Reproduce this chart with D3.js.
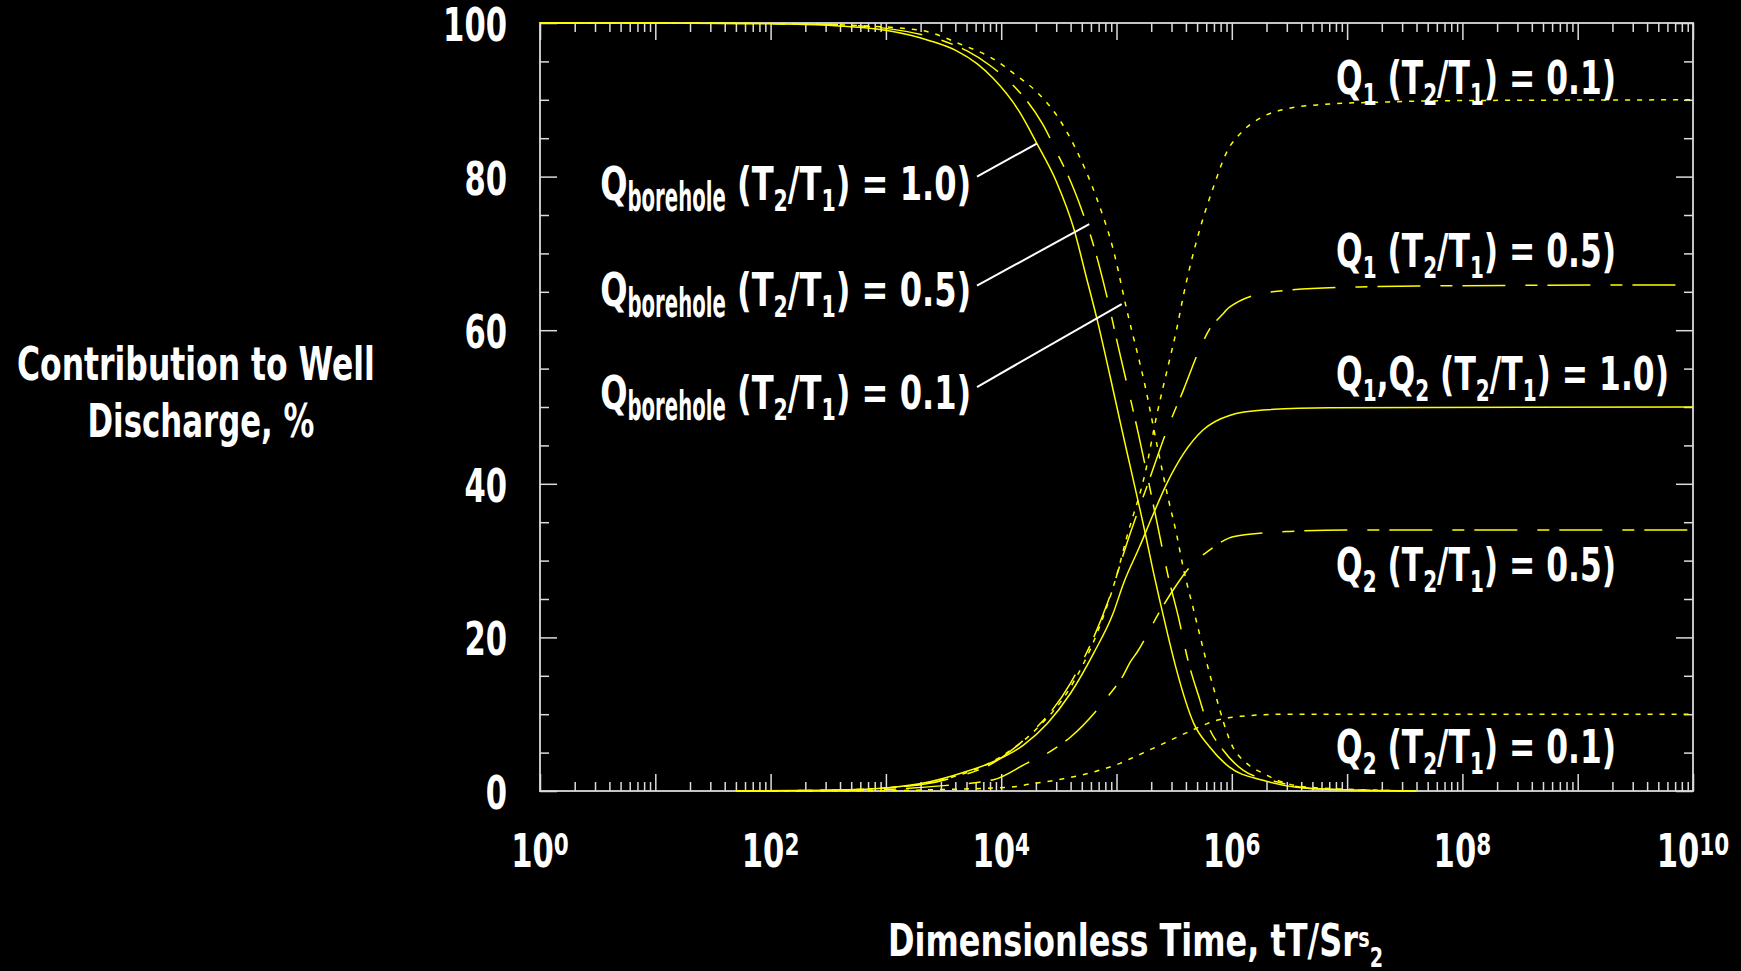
<!DOCTYPE html>
<html>
<head>
<meta charset="utf-8">
<script src="https://cdn.jsdelivr.net/npm/d3@7"></script>
<style>
  html, body { margin: 0; padding: 0; background: #000; }
  svg { display: block; background: #000; }
  text {
    font-family: "Liberation Sans Narrow", "Arial Narrow", "DejaVu Sans Condensed", sans-serif;
    font-weight: bold;
    fill: #fff;
  }
</style>
</head>
<body>
<div id="chart"></div>
<script>
// each point is [log10 of dimensionless time, contribution in %]
const boreholeRatio10 = [[0,100],[1,100],[2,99.9],[2.5,99.7],[3.0,99.05],[3.38,97.7],[3.61,96.4],[3.79,94.7],[3.93,92.8],[4.16,88.4],[4.31,84.3],[4.48,79.3],[4.63,73.2],[4.74,66.8],[4.83,61.5],[4.94,54.3],[5.04,47.5],[5.12,42.2],[5.25,33.5],[5.32,28.5],[5.38,24.5],[5.45,20.0],[5.52,15.8],[5.67,8.8],[5.81,5.7],[5.98,3.1],[6.27,1.4],[6.56,0.5],[7.0,0.15],[7.6,0]];
const boreholeRatio05 = [[0,100],[1,100],[2,99.9],[2.5,99.8],[3.0,99.3],[3.53,97.5],[3.70,96.4],[3.90,94.5],[4.09,92.1],[4.365,86.7],[4.51,82.3],[4.55,81.1],[4.70,75.6],[4.80,71.1],[4.915,64.5],[5.016,57.8],[5.19,46.5],[5.348,35.2],[5.449,27.9],[5.536,22.7],[5.62,17.0],[5.724,11.8],[5.782,9.0],[5.926,5.3],[6.1,2.7],[6.389,1.2],[6.707,0.3],[7.6,0]];
const boreholeRatio01 = [[0,100],[1,100],[2,99.95],[2.7,99.7],[3.3,99.05],[3.67,97.1],[3.90,95.6],[4.13,93.2],[4.31,91.0],[4.48,88.0],[4.66,83.2],[4.83,77.1],[4.97,70.6],[5.09,62.6],[5.25,52.6],[5.36,44.4],[5.45,38.0],[5.52,33.5],[5.58,29.0],[5.67,23.5],[5.84,13.5],[6.01,5.7],[6.13,3.6],[6.27,2.3],[6.65,0.5],[7.6,0]];
const q1q2Ratio10 = [[1.7,0],[2.5,0.1],[3.0,0.4],[3.38,1.2],[3.67,2.4],[3.96,4.0],[4.19,5.95],[4.4,8.8],[4.6,12.7],[4.8,17.9],[4.97,23.1],[5.06,27.0],[5.2,31.8],[5.32,36.1],[5.435,40.0],[5.58,43.9],[5.75,47.0],[5.98,48.9],[6.27,49.6],[6.85,49.9],[10,50]];
const q1Ratio05 = [[1.7,0],[2.5,0.1],[3.0,0.4],[3.5,1.4],[4.0,4.3],[4.22,7.0],[4.6,14.0],[4.92,24.4],[5.12,33.6],[5.26,39.5],[5.45,47.5],[5.58,52.2],[5.72,57.5],[5.81,60.2],[5.91,61.9],[5.98,63.0],[6.35,65.0],[7.0,65.6],[8,65.8],[10,65.9]];
const q2Ratio05 = [[1.7,0],[2.5,0.05],[3.0,0.2],[3.5,0.7],[3.94,1.5],[4.22,3.6],[4.42,5.1],[4.6,7.0],[4.92,12.2],[5.06,15.1],[5.12,16.8],[5.18,18.1],[5.38,23.5],[5.51,26.6],[5.65,29.4],[5.80,31.3],[5.93,32.6],[6.01,33.1],[6.5,33.8],[7.0,34.0],[10,34.0]];
const q1Ratio01 = [[1.7,0],[2.5,0.1],[3.0,0.4],[3.5,1.5],[4.0,4.5],[4.3,8.0],[4.6,13.5],[4.83,20.5],[5.0,28.0],[5.09,33.1],[5.25,41.5],[5.35,49.0],[5.45,55.5],[5.52,60.0],[5.58,64.5],[5.72,73.0],[5.84,78.6],[5.95,83.0],[6.1,86.0],[6.27,87.8],[6.5,88.9],[6.8,89.4],[7.3,89.7],[8,89.9],[10,90]];
const q2Ratio01 = [[1.7,0],[2.5,0.02],[3.0,0.05],[3.5,0.2],[4.08,0.5],[4.25,0.9],[4.54,1.6],[4.83,2.6],[5.03,3.6],[5.12,4.2],[5.41,6.2],[5.61,7.6],[5.87,9.2],[6.13,9.8],[6.5,10.0],[10,10.0]];

const yTickValues = [0, 20, 40, 60, 80, 100];
const xLabelExponents = [0, 2, 4, 6, 8, 10];
const ratios = ["1.0", "0.5", "0.1"];

const W = 1741, H = 971;
const margin = { top: 23, right: 48, bottom: 180, left: 540 };

const svg = d3.select("#chart").append("svg").attr("width", W).attr("height", H);

const x = d3.scaleLog().domain([1, 1e10]).range([margin.left, W - margin.right]);
const y = d3.scaleLinear().domain([0, 100]).range([H - margin.bottom, margin.top]);
const px = (d) => x(10 ** d[0]);
const py = (d) => y(d[1]);

// lays text pieces (main, sub, super) side by side; a piece may be squeezed
// to its own width (w), and the whole group to an overall width
function richText(parent, pieces, { x0, y0, anchor = "start", width = null, size = 47 }) {
  const g = parent.append("g");
  let cx = 0;
  pieces.forEach((p) => {
    const t = g.append("text")
      .attr("font-size", p.size || size)
      .attr("y", p.dy || 0)
      .text(p.t.replace(/ /g, "\u00a0"));
    const natural = t.node().getComputedTextLength();
    const sx = p.w ? p.w / natural : p.sx || 1;
    t.attr("transform", `translate(${cx},0) scale(${sx},1)`);
    cx += natural * sx;
  });
  const k = width ? width / cx : 1;
  const w = cx * k;
  const left = anchor === "end" ? x0 - w : anchor === "middle" ? x0 - w / 2 : x0;
  g.attr("transform", `translate(${left},${y0}) scale(${k},1)`);
  return g;
}

// frame
svg.append("rect")
  .attr("x", x.range()[0]).attr("y", y.range()[1])
  .attr("width", x.range()[1] - x.range()[0])
  .attr("height", y.range()[0] - y.range()[1])
  .attr("fill", "none").attr("stroke", "#c4c4c4").attr("stroke-width", 2);

// inward ticks on all four sides
const decades = d3.range(0, 11).map((k) => 10 ** k);
const minorT = d3.range(0, 10).flatMap((k) => d3.range(2, 10).map((m) => m * 10 ** k));
const minorPct = d3.range(5, 100, 5).filter((v) => v % 20 !== 0);

function drawTicks(axis, values, size, transform) {
  svg.append("g")
    .attr("transform", transform)
    .style("color", "#dcdcdc")
    .call(axis.tickValues(values).tickSize(-size).tickFormat(""))
    .call((g) => g.select(".domain").remove())
    .call((g) => g.selectAll("text").remove())
    .call((g) => g.selectAll("line").attr("stroke-width", 1.5));
}
const bottomT = `translate(0,${y(0)})`, topT = `translate(0,${y(100)})`;
const leftT = `translate(${x(1)},0)`, rightT = `translate(${x(1e10)},0)`;
drawTicks(d3.axisBottom(x), decades, 17, bottomT);
drawTicks(d3.axisBottom(x), minorT, 9, bottomT);
drawTicks(d3.axisTop(x), decades, 17, topT);
drawTicks(d3.axisTop(x), minorT, 9, topT);
drawTicks(d3.axisLeft(y), yTickValues, 17, leftT);
drawTicks(d3.axisLeft(y), minorPct, 9, leftT);
drawTicks(d3.axisRight(y), yTickValues, 17, rightT);
drawTicks(d3.axisRight(y), minorPct, 9, rightT);

// y tick labels
const digitW = 21.3;
yTickValues.forEach((v) => {
  richText(svg, [{ t: String(v), w: String(v).length * digitW }],
    { x0: x(1) - 33, y0: y(v) + 18, anchor: "end", size: 46 });
});

// x tick labels, 10 with exponent
xLabelExponents.forEach((k) => {
  richText(svg, [
    { t: "10", w: 2 * digitW },
    { t: String(k), size: 31, dy: -12, w: String(k).length * 15 },
  ], { x0: x(10 ** k), y0: 867, anchor: "middle", size: 46 });
});

// axis titles
richText(svg, [{ t: "Dimensionless Time, tT/Sr" }, { t: "s", size: 27, dy: -9 }, { t: "2", size: 27, dy: 11 }],
  { x0: 888, y0: 956, width: 495, size: 45 });
richText(svg, [{ t: "Contribution to Well" }], { x0: 196, y0: 380, anchor: "middle", width: 358 });
richText(svg, [{ t: "Discharge, %" }], { x0: 201, y0: 437, anchor: "middle", width: 227 });

// curves
const longDash = "43 20 12 10";
const shortDash = "5 7";
const series = [
  { data: boreholeRatio10, dash: null },
  { data: boreholeRatio05, dash: longDash },
  { data: boreholeRatio01, dash: shortDash },
  { data: q1q2Ratio10, dash: null },
  { data: q1Ratio05, dash: longDash },
  { data: q2Ratio05, dash: longDash },
  { data: q1Ratio01, dash: shortDash },
  { data: q2Ratio01, dash: shortDash },
];
const line = d3.line().x(px).y(py).curve(d3.curveMonotoneX);
svg.append("g").selectAll("path").data(series).join("path")
  .attr("d", (d) => line(d.data))
  .attr("fill", "none")
  .attr("stroke", "#ffff00")
  .attr("stroke-width", 1.5)
  .attr("stroke-dasharray", (d) => d.dash);

// Q borehole labels with leader lines
const S = (t) => ({ t, size: 30, dy: 11 });
const leaders = [
  { from: [3.79, 80.0], to: [4.308, 84.3], at: [3.74, 76.9] },
  { from: [3.79, 65.8], to: [4.764, 73.8], at: [3.74, 63.2] },
  { from: [3.79, 52.6], to: [5.045, 63.4], at: [3.74, 49.8] },
];
svg.append("g").selectAll("line").data(leaders).join("line")
  .attr("x1", (d) => px(d.from)).attr("y1", (d) => py(d.from))
  .attr("x2", (d) => px(d.to)).attr("y2", (d) => py(d.to))
  .attr("stroke", "#fff").attr("stroke-width", 2);
leaders.forEach((d, i) => {
  richText(svg, [
    { t: "Q" }, { t: "borehole", size: 40, dy: 11, sx: 0.72 },
    { t: " (T" }, S("2"), { t: "/T" }, S("1"), { t: `) = ${ratios[i]})` },
  ], { x0: px(d.at), y0: py(d.at), anchor: "end", width: 371 });
});

// Q1 / Q2 labels on the right
const rightLabels = [
  { pieces: [{ t: "Q" }, S("1"), { t: " (T" }, S("2"), { t: "/T" }, S("1"), { t: ") = 0.1)" }], at: [6.904, 90.8], width: 280 },
  { pieces: [{ t: "Q" }, S("1"), { t: " (T" }, S("2"), { t: "/T" }, S("1"), { t: ") = 0.5)" }], at: [6.904, 68.2], width: 280 },
  { pieces: [{ t: "Q" }, S("1"), { t: ",Q" }, S("2"), { t: " (T" }, S("2"), { t: "/T" }, S("1"), { t: ") = 1.0)" }], at: [6.904, 52.2], width: 333 },
  { pieces: [{ t: "Q" }, S("2"), { t: " (T" }, S("2"), { t: "/T" }, S("1"), { t: ") = 0.5)" }], at: [6.904, 27.4], width: 280 },
  { pieces: [{ t: "Q" }, S("2"), { t: " (T" }, S("2"), { t: "/T" }, S("1"), { t: ") = 0.1)" }], at: [6.904, 3.6], width: 280 },
];
rightLabels.forEach((d) => {
  richText(svg, d.pieces, { x0: px(d.at), y0: py(d.at), width: d.width });
});
</script>
</body>
</html>
